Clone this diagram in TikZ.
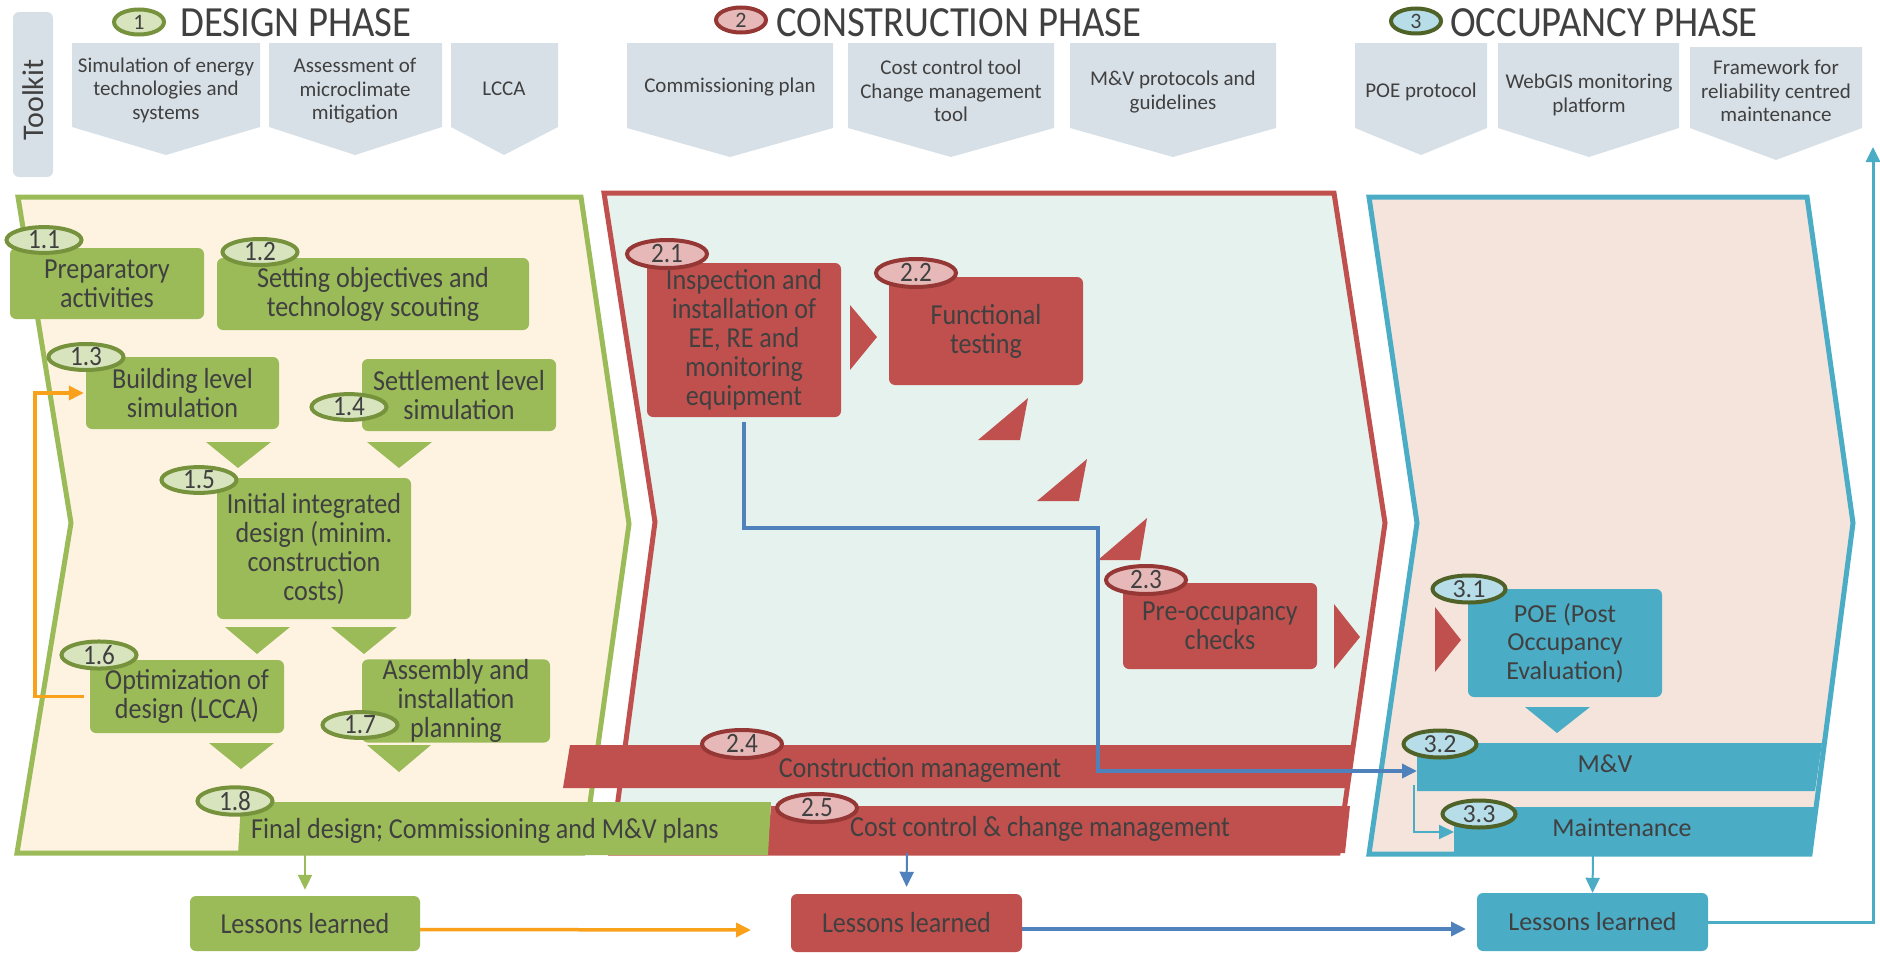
\documentclass[tikz,border=0pt]{standalone}
\usepackage{fontspec}
\setmainfont{Carlito}
\newfontfamily\cond[FakeStretch=0.9]{Carlito}
\usetikzlibrary{shapes.geometric,arrows.meta}
\definecolor{gfill}{HTML}{9BBB59}
\definecolor{gdark}{HTML}{76923C}
\definecolor{glight}{HTML}{D7E4BD}
\definecolor{rfill}{HTML}{C0504D}
\definecolor{rdark}{HTML}{953735}
\definecolor{rlight}{HTML}{E6B9B8}
\definecolor{bfill}{HTML}{4BACC6}
\definecolor{bdark}{HTML}{4F6228}
\definecolor{blight}{HTML}{B7DEE8}
\definecolor{tk}{HTML}{D8E0E7}
\definecolor{textc}{HTML}{404040}
\definecolor{pdesign}{HTML}{FEF2E1}
\definecolor{pcons}{HTML}{E6F2EE}
\definecolor{pocc}{HTML}{F5E4DC}
\definecolor{orng}{HTML}{F9A11B}
\definecolor{bline}{HTML}{4F81BD}
\newcommand\fsz[2]{\fontsize{#1pt}{#2pt}\selectfont}
\begin{document}
\begin{tikzpicture}[x=1pt,y=-1pt,
  txt/.style={text=textc, align=center, inner sep=0pt, font=\cond\fsz{29}{29}},
  rtxt/.style={text=textc, align=center, inner sep=0pt, font=\fsz{26}{28.5}},
  tktxt/.style={text=textc, align=center, inner sep=0pt, font=\fsz{21}{23.5}},
  boxbase/.style={rounded corners=6pt, txt},
  gbox/.style={boxbase, fill=gfill},
  rbox/.style={boxbase, fill=rfill},
  bbox/.style={boxbase, fill=bfill, rtxt},
  ovbase/.style={ellipse, line width=4pt, inner sep=0pt, minimum width=75pt, minimum height=25pt, text=textc, font=\cond\fsz{28}{28}},
  gov/.style={ovbase, draw=gdark, fill=glight},
  rov/.style={ovbase, draw=rdark, fill=rlight, minimum width=80pt, minimum height=28pt},
  bov/.style={ovbase, draw=bdark, fill=blight, minimum width=73pt, minimum height=27pt, font=\fsz{26}{26}},
  hov/.style={ellipse, line width=4pt, inner sep=0pt, minimum width=50pt, minimum height=25pt, text=textc, font=\fsz{22}{22}},
  title/.style={anchor=west, inner sep=0pt, text=textc, font=\cond\fsz{43}{43}},
  chev/.style={fill=tk},
  panel/.style={line width=5pt, line join=miter},
  tip/.style={-{Triangle[length=15pt,width=14pt]}},
  orangeline/.style={draw=orng, line width=3.5pt, tip},
  blueline/.style={draw=bline, line width=3.5pt, tip},
  thinline/.style={line width=2pt, tip},
]
\useasboundingbox (0,0) rectangle (1880,953);

% ---------- phase panels ----------
\draw[panel, draw=gfill, fill=pdesign] (18,197) -- (581,197) -- (629,524) -- (583,853) -- (17,853) -- (71,523) -- cycle;
\draw[panel, draw=rfill, fill=pcons] (604,193) -- (1334,193) -- (1385,523) -- (1338,853) -- (611,853) -- (655,522) -- cycle;
\draw[panel, draw=bfill, fill=pocc] (1369,197) -- (1807,197) -- (1853,523) -- (1810,854) -- (1369,854) -- (1417,523) -- cycle;

% ---------- toolkit ----------
\fill[tk, rounded corners=6pt] (13,12) rectangle (53,177);
\node[rotate=90, text=textc, inner sep=0pt, font=\fsz{30}{30}] (toolkit) at (33,100) {Toolkit};

\fill[chev] (72,43) -- (260,43) -- (260,127) -- (166,155) -- (72,127) -- cycle;
\fill[chev] (269,43) -- (442,43) -- (442,127) -- (355,155) -- (269,127) -- cycle;
\fill[chev] (451,43) -- (558,43) -- (558,127) -- (504,155) -- (451,127) -- cycle;
\fill[chev] (627,43) -- (833,43) -- (833,128) -- (730,157) -- (627,128) -- cycle;
\fill[chev] (848,43) -- (1054,43) -- (1054,128) -- (951,157) -- (848,128) -- cycle;
\fill[chev] (1070,43) -- (1276,43) -- (1276,128) -- (1173,157) -- (1070,128) -- cycle;
\fill[chev] (1355,43) -- (1487,43) -- (1487,128) -- (1421,155) -- (1355,128) -- cycle;
\fill[chev] (1498,43) -- (1679,43) -- (1679,128) -- (1589,157) -- (1498,128) -- cycle;
\fill[chev] (1690,47) -- (1862,47) -- (1862,128) -- (1776,160) -- (1690,128) -- cycle;

\node[tktxt] (tk11) at (166,90) {Simulation of energy\\technologies and\\systems};
\node[tktxt] (tk12) at (355,91) {Assessment of\\microclimate\\mitigation};
\node[tktxt] (tk13) at (504,89) {LCCA};
\node[tktxt] (tk21) at (730,87) {Commissioning plan};
\node[tktxt] (tk22) at (951,91) {Cost control tool\\Change management\\tool};
\node[tktxt] (tk23) at (1173,92) {M\&V protocols and\\guidelines};
\node[tktxt] (tk31) at (1421,92) {POE protocol};
\node[tktxt] (tk32) at (1589,95) {WebGIS monitoring\\platform};
\node[tktxt] (tk33) at (1776,91) {Framework for\\reliability centred\\maintenance};

% ---------- titles ----------
\node[hov, draw=gdark, fill=glight] (h1) at (139,22) {1};
\node[title] (t1) at (180,23) {DESIGN PHASE};
\node[hov, draw=rdark, fill=rlight] (h2) at (741,20) {2};
\node[title] (t2) at (776,23) {CONSTRUCTION PHASE};
\node[hov, draw=bdark, fill=blight] (h3) at (1416,21) {3};
\node[title] (t3) at (1450,23) {OCCUPANCY PHASE};

% ---------- design boxes ----------
\node[gbox, minimum width=194pt, minimum height=71pt] (b11) at (107,283.5) {Preparatory\\activities};
\node[gbox, minimum width=312pt, minimum height=72pt] (b12) at (373,294) {Setting objectives and\\technology scouting};
\node[gbox, minimum width=193pt, minimum height=72pt] (b13) at (182.5,393) {Building level\\simulation};
\node[gbox, minimum width=194pt, minimum height=72pt] (b14) at (459,395) {Settlement level\\simulation};
\node[gbox, minimum width=194pt, minimum height=141pt] (b15) at (314,548.5) {Initial integrated\\design (minim.\\construction\\costs)};
\node[gbox, minimum width=194pt, minimum height=73pt] (b16) at (187,696.5) {Optimization of\\design (LCCA)};
\node[gbox, minimum width=188pt, minimum height=79pt] (b17) at (456,701) {Assembly and\\installation\\planning};

\fill[gfill] (206,442) -- (271,442) -- (238,468) -- cycle;
\fill[gfill] (367,442) -- (432,442) -- (399,468) -- cycle;
\fill[gfill] (225,627) -- (290,627) -- (257,654) -- cycle;
\fill[gfill] (331,627) -- (397,627) -- (364,654) -- cycle;
\fill[gfill] (209,743) -- (274,743) -- (241,769) -- cycle;
\fill[gfill] (367,745) -- (431,745) -- (399,772) -- cycle;

% ---------- construction boxes ----------
\node[rbox, minimum width=194pt, minimum height=154pt] (b21) at (744,340) {Inspection and\\installation of\\EE, RE and\\monitoring\\equipment};
\node[rbox, minimum width=194pt, minimum height=108pt] (b22) at (986,331) {Functional\\testing};
\node[rbox, minimum width=194pt, minimum height=86pt] (b23) at (1220,626) {Pre-occupancy\\checks};

\fill[rfill] (850,305) -- (877,337) -- (850,370) -- cycle;
\fill[rfill] (1028,398) -- (978,440) -- (1020,440) -- cycle;
\fill[rfill] (1087,459) -- (1037,501) -- (1079,501) -- cycle;
\fill[rfill] (1147,518) -- (1098,560) -- (1140,560) -- cycle;
\fill[rfill] (1334,604) -- (1360,637) -- (1334,669) -- cycle;

% ---------- occupancy boxes ----------
\fill[rfill] (1435,607) -- (1461,640) -- (1435,672) -- cycle;
\node[bbox, minimum width=194pt, minimum height=108pt] (b31) at (1565,643) {POE (Post\\Occupancy\\Evaluation)};
\fill[bfill] (1525,707) -- (1590,707) -- (1557,733) -- cycle;

% ---------- bars ----------
\fill[rfill] (570,745) -- (1352,745) -- (1347,788) -- (563,788) -- cycle;
\node[txt] (n24) at (920,770) {Construction management};
\fill[rfill] (771,806) -- (1350,806) -- (1345,853) -- (767,853) -- cycle;
\node[txt] (n25) at (1040,829) {Cost control \& change management};
\fill[gfill] (241,802) -- (771,802) -- (768,855) -- (238,855) -- cycle;
\node[txt] (n18) at (485,831) {Final design; Commissioning and M\&V plans};
\fill[bfill] (1417,743) -- (1822,743) -- (1815,791) -- (1417,791) -- cycle;
\node[rtxt] (nmv) at (1605,764) {M\&V};
\fill[bfill] (1454,807) -- (1816,807) -- (1810,854) -- (1454,854) -- cycle;
\node[rtxt] (nmt) at (1622,828) {Maintenance};

% ---------- lessons learned ----------
\node[gbox, minimum width=230pt, minimum height=55pt] (L1) at (305,923.5) {Lessons learned};
\node[rbox, minimum width=231pt, minimum height=58pt] (L2) at (906.5,923) {Lessons learned};
\node[bbox, minimum width=231pt, minimum height=58pt] (L3) at (1592.5,922) {Lessons learned};

% ---------- connector coordinates ----------
\coordinate (c1) at (1098,528);
\coordinate (cmv) at (1417,771);
\coordinate (cmv1) at (1414,785);
\coordinate (cmt) at (1454,832);
\coordinate (c18b) at (305,855);
\coordinate (c25b) at (907,853);
\coordinate (c33b) at (1593,854);
\coordinate (cfb) at (1873,147);
\coordinate (ce1) at (751,930);
\coordinate (ce2) at (1466,929);

% ---------- connectors ----------
\draw[orangeline] ([xshift=-6pt]b16.west) -- ++(-49,0) |- ([xshift=-2pt]b13.west);
\draw[blueline] ([yshift=-5pt]b21.south) |- (c1) |- (cmv);
\draw[thinline, draw=bfill] (cmv1) |- (cmt);
\draw[thinline, draw=gfill] (c18b) -- ([yshift=6pt]L1.north);
\draw[thinline, draw=bline] (c25b) -- ([yshift=7pt]L2.north);
\draw[thinline, draw=bfill] (c33b) -- (L3.north);
\draw[orangeline] ([yshift=-6pt]L1.east) -- (ce1);
\draw[blueline] ([yshift=-6pt]L2.east) -- (ce2);
\draw[thinline, draw=bfill, line width=3pt] (L3.east) -| (cfb);

% ---------- number ovals ----------
\node[gov] (o11) at (44,240) {1.1};
\node[gov] (o12) at (260,252) {1.2};
\node[gov] (o13) at (86,357) {1.3};
\node[gov] (o14) at (349,407) {1.4};
\node[gov] (o15) at (199,480) {1.5};
\node[gov] (o16) at (99,655) {1.6};
\node[gov] (o17) at (360,725) {1.7};
\node[gov] (o18) at (235,801) {1.8};
\node[rov] (o21) at (667,254) {2.1};
\node[rov] (o22) at (916,273) {2.2};
\node[rov] (o23) at (1146,580) {2.3};
\node[rov] (o24) at (742,744) {2.4};
\node[rov] (o25) at (817,808) {2.5};
\node[bov] (o31) at (1469,589) {3.1};
\node[bov] (o32) at (1440,744) {3.2};
\node[bov] (o33) at (1479,814) {3.3};
\end{tikzpicture}
\end{document}
